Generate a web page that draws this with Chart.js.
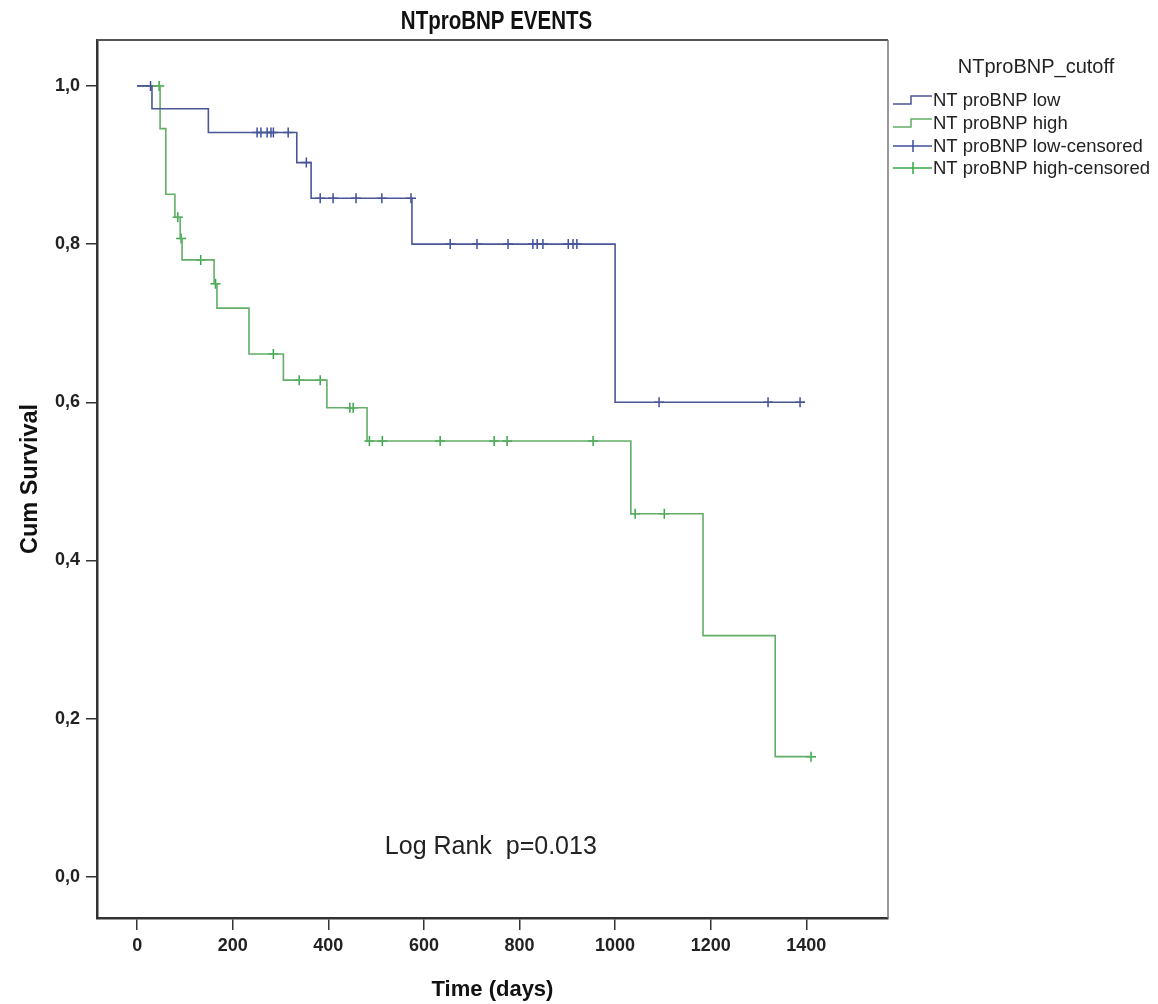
<!DOCTYPE html>
<html>
<head>
<meta charset="utf-8">
<script src="https://cdn.jsdelivr.net/npm/chart.js@4.4.1/dist/chart.umd.min.js"></script>
<style>
  html, body { margin: 0; padding: 0; background: #ffffff; }
  #wrap { width: 1158px; height: 1004px; }
</style>
</head>
<body>
<div id="wrap"><canvas id="c" width="1158" height="1004"></canvas></div>
<script>
// ---- Data ----
const chartTitle = "NTproBNP EVENTS";
const legendTitle = "NTproBNP_cutoff";
const seriesNames = ["NT proBNP low", "NT proBNP high", "NT proBNP low-censored", "NT proBNP high-censored"];
const annotationText = "Log Rank  p=0.013";

// Kaplan-Meier step curve: low NTproBNP group
const lowTimes = [0, 31, 149, 334, 364, 575, 1000, 1397];
const lowSurv  = [1.0, 0.971, 0.941, 0.903, 0.858, 0.800, 0.600, 0.600];
// censored observations, low group
const lowCensTimes = [28, 251, 259, 272, 280, 285, 316, 354, 383, 410, 458, 512, 573, 655, 711, 776, 828, 837, 849, 902, 912, 920, 1092, 1320, 1387];
const lowCensSurv  = [1.0, 0.941, 0.941, 0.941, 0.941, 0.941, 0.941, 0.903, 0.858, 0.858, 0.858, 0.858, 0.858, 0.800, 0.800, 0.800, 0.800, 0.800, 0.800, 0.800, 0.800, 0.800, 0.600, 0.600, 0.600];

// Kaplan-Meier step curve: high NTproBNP group
const highTimes = [0, 48, 60, 79, 90, 94, 161, 167, 234, 306, 397, 481, 1033, 1184, 1335, 1414];
const highSurv  = [1.0, 0.946, 0.863, 0.834, 0.807, 0.780, 0.750, 0.719, 0.661, 0.628, 0.593, 0.551, 0.459, 0.305, 0.152, 0.152];
// censored observations, high group
const highCensTimes = [46, 85, 92, 133, 164, 285, 339, 383, 445, 452, 486, 513, 634, 747, 774, 954, 1042, 1103, 1410];
const highCensSurv  = [1.0, 0.834, 0.807, 0.780, 0.750, 0.661, 0.628, 0.628, 0.593, 0.593, 0.551, 0.551, 0.551, 0.551, 0.551, 0.551, 0.459, 0.459, 0.152];

// axis ticks
const xTickValues = [0, 200, 400, 600, 800, 1000, 1200, 1400];
const yTickValues = [0, 0.2, 0.4, 0.6, 0.8, 1.0];
const xAxisTitle = "Time (days)";
const yAxisTitle = "Cum Survival";

// ---- Styling ----
const FONT = "'Liberation Sans', Arial, sans-serif";
const blueLine = "#4a5796";
const greenLine = "#62ad67";
const blueMark = "#3f4f9a";
const greenMark = "#35a847";

const toXY = (xs, ys) => xs.map((x, i) => ({x: x, y: ys[i]}));

function condensedText(ctx, text, x, y, sx) {
  ctx.save();
  ctx.translate(x, y);
  ctx.scale(sx, 1);
  ctx.fillText(text, 0, 0);
  ctx.restore();
}

const framePlugin = {
  id: 'frame',
  afterDraw(chart) {
    const {ctx, chartArea: a, scales} = chart;
    ctx.save();
    // frame around plot
    ctx.strokeStyle = "#555";
    ctx.lineWidth = 2;
    ctx.beginPath();
    ctx.moveTo(a.left, a.top); ctx.lineTo(a.right, a.top); ctx.stroke();
    ctx.strokeStyle = "#777";
    ctx.lineWidth = 1.5;
    ctx.beginPath();
    ctx.moveTo(a.right, a.top); ctx.lineTo(a.right, a.bottom); ctx.stroke();

    // main title
    ctx.fillStyle = "#111";
    ctx.textAlign = "center";
    ctx.textBaseline = "middle";
    ctx.font = "bold 25px " + FONT;
    condensedText(ctx, chartTitle, (a.left + a.right) / 2 + 4, 22, 0.82);

    // annotation
    ctx.font = "25px " + FONT;
    ctx.fillStyle = "#222";
    condensedText(ctx, annotationText, scales.x.getPixelForValue(740), scales.y.getPixelForValue(0.037), 1.0);

    // legend
    const lx0 = 893, lx1 = 932;
    ctx.textAlign = "center";
    ctx.font = "20px " + FONT;
    ctx.fillStyle = "#222";
    ctx.fillText(legendTitle, 1036, 67);
    ctx.textAlign = "left";
    ctx.font = "18.5px " + FONT;
    const ds = chart.data.datasets;
    const rowsY = [100, 123, 146, 168];
    ds.forEach((d, i) => {
      const y = rowsY[i];
      ctx.strokeStyle = d.borderColor;
      ctx.lineWidth = 1.5;
      ctx.beginPath();
      if (i < 2) {
        ctx.moveTo(lx0, y + 4); ctx.lineTo(lx0 + 18, y + 4);
        ctx.lineTo(lx0 + 18, y - 4); ctx.lineTo(lx1, y - 4);
      } else {
        ctx.moveTo(lx0, y); ctx.lineTo(lx1, y);
        ctx.moveTo(lx0 + 20, y - 6); ctx.lineTo(lx0 + 20, y + 6);
      }
      ctx.stroke();
      ctx.fillStyle = "#222";
      ctx.fillText(d.label, lx1 + 1, y + 1);
    });
    ctx.restore();
  }
};

new Chart(document.getElementById('c'), {
  type: 'scatter',
  data: {
    datasets: [
      { type: 'line', label: seriesNames[0], data: toXY(lowTimes, lowSurv), stepped: true,
        borderColor: blueLine, borderWidth: 1.6, pointRadius: 0, fill: false },
      { type: 'line', label: seriesNames[1], data: toXY(highTimes, highSurv), stepped: true,
        borderColor: greenLine, borderWidth: 1.6, pointRadius: 0, fill: false },
      { type: 'scatter', label: seriesNames[2], data: toXY(lowCensTimes, lowCensSurv),
        pointStyle: 'cross', pointRadius: 5, borderColor: blueMark, borderWidth: 1.5, backgroundColor: blueMark },
      { type: 'scatter', label: seriesNames[3], data: toXY(highCensTimes, highCensSurv),
        pointStyle: 'cross', pointRadius: 5, borderColor: greenMark, borderWidth: 1.5, backgroundColor: greenMark }
    ]
  },
  options: {
    responsive: false,
    animation: false,
    devicePixelRatio: 1,
    layout: { padding: { top: 40, right: 270, left: 0, bottom: 0 } },
    plugins: { legend: { display: false }, title: { display: false }, tooltip: { enabled: false } },
    scales: {
      x: {
        type: 'linear', min: -84, max: 1571,
        afterFit(s) { s.height = 86; },
        afterBuildTicks(s) { s.ticks = xTickValues.map(v => ({value: v})); },
        ticks: { color: "#222", font: { family: FONT, size: 18, weight: 'bold' }, padding: 5, maxRotation: 0,
                 callback: v => String(v) },
        grid: { drawOnChartArea: false, drawTicks: true, tickLength: 12, color: "#333", lineWidth: 1.5 },
        border: { display: true, color: "#333", width: 2.5 },
        title: { display: true, text: xAxisTitle, color: "#111", font: { family: FONT, size: 22, weight: 'bold' },
                 padding: { top: 0, bottom: 1 } }
      },
      y: {
        type: 'linear', min: -0.052, max: 1.058,
        afterFit(s) { s.width = 97; },
        afterBuildTicks(s) { s.ticks = yTickValues.map(v => ({value: v})); },
        ticks: { color: "#222", font: { family: FONT, size: 18, weight: 'bold' }, padding: 6,
                 callback: v => v.toFixed(1).replace('.', ',') },
        grid: { drawOnChartArea: false, drawTicks: true, tickLength: 11, color: "#333", lineWidth: 1.5 },
        border: { display: true, color: "#333", width: 2.5 },
        title: { display: true, text: yAxisTitle, color: "#111", font: { family: FONT, size: 23.5, weight: 'bold' },
                 padding: { top: 16, bottom: 0 } }
      }
    }
  },
  plugins: [framePlugin]
});
</script>
</body>
</html>
